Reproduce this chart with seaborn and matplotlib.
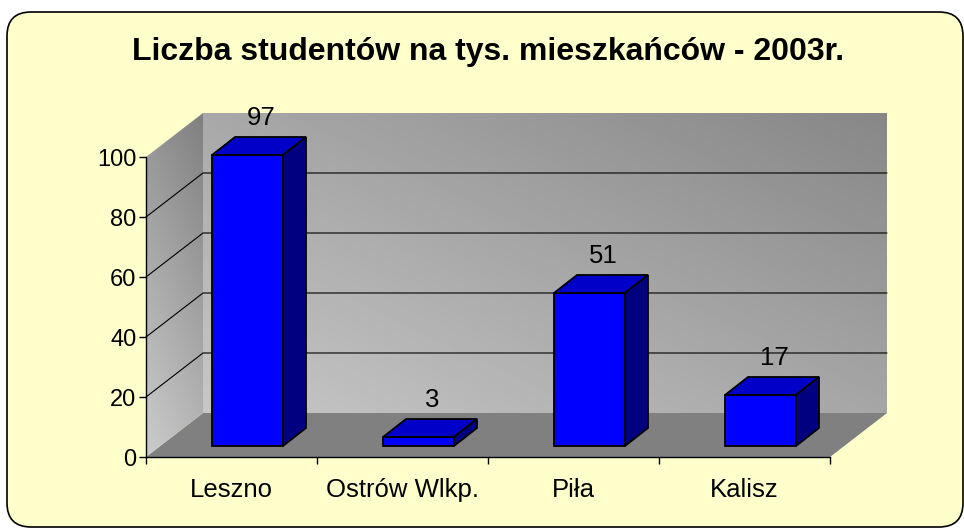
import numpy as np
import seaborn as sns
import matplotlib.pyplot as plt
from matplotlib.patches import FancyBboxPatch, Polygon
from matplotlib.transforms import offset_copy, IdentityTransform

# data
cities = ['Leszno', 'Ostrów Wlkp.', 'Piła', 'Kalisz']
students = [97, 3, 51, 17]
y_ticks = [0, 20, 40, 60, 80, 100]
grid_vals = [20, 40, 60, 80]
title = 'Liczba studentów na tys. mieszkańców - 2003r.'

W, H = 964, 528
DX, DY = 57, 44      # depth of the walls (px)
BX, BY = 16, 11      # front face of the bars sits a bit inside
BDX, BDY = 23, 18    # depth of the bars

sns.set_theme(style='white')
plt.rcParams['font.family'] = ['Liberation Sans', 'DejaVu Sans']

fig = plt.figure(figsize=(W / 100, H / 100), dpi=100, facecolor='white')

# background axes in pixel units
bg = fig.add_axes([0, 0, 1, 1], zorder=0)
bg.set_xlim(0, W)
bg.set_ylim(0, H)
bg.axis('off')

frame = FancyBboxPatch((7, 1), 956, 515, boxstyle='round,pad=0,rounding_size=24',
                       facecolor='#FFFFCC', edgecolor='black', linewidth=1.2)
bg.add_patch(frame)

# main axes = front plane of the 3d box
ax = fig.add_axes([146 / W, (H - 457) / H, (830 - 146) / W, 300 / H], zorder=1)
ax.set_xlim(-0.5, 3.5)
ax.set_ylim(0, 100)
ax.patch.set_visible(False)


def px(x, y, d=0):
    p = ax.transData.transform((x, y))
    return (p[0] + d * DX, p[1] + d * DY)


def gradient_poly(pts, fn):
    poly = Polygon(pts, closed=True, facecolor='none', edgecolor='none')
    bg.add_patch(poly)
    xs = [p[0] for p in pts]
    ys = [p[1] for p in pts]
    u, v = np.meshgrid(np.linspace(0, 1, 200), np.linspace(0, 1, 200))
    im = bg.imshow(fn(u, v), extent=(min(xs), max(xs), min(ys), max(ys)), origin='lower',
                   cmap='gray', vmin=0, vmax=1, aspect='auto', interpolation='bilinear', zorder=1)
    im.set_clip_path(poly)


# floor
floor = [px(-0.5, 0), px(3.5, 0), px(3.5, 0, 1), px(-0.5, 0, 1)]
bg.add_patch(Polygon(floor, closed=True, facecolor='#808080', edgecolor='none', zorder=1))

# back wall
back = [px(-0.5, 0, 1), px(3.5, 0, 1), px(3.5, 100, 1), px(-0.5, 100, 1)]
gradient_poly(back, lambda u, v: 0.78 - 0.13 * u - 0.12 * v)

# left wall
left = [px(-0.5, 0), px(-0.5, 0, 1), px(-0.5, 100, 1), px(-0.5, 100)]
gradient_poly(left, lambda u, v: 0.80 - 0.22 * v - 0.08 * u)

bg.set_xlim(0, W)
bg.set_ylim(0, H)

# grid lines on walls
for g in grid_vals:
    a, b, c = px(-0.5, g), px(-0.5, g, 1), px(3.5, g, 1)
    bg.plot([a[0], b[0], c[0]], [a[1], b[1], c[1]], color='black', linewidth=0.8, zorder=2)

# bars (front faces)
sns.barplot(x=cities, y=students, ax=ax, width=0.415, color='#0000FF', saturation=1,
            edgecolor='black', linewidth=1.3)
ax.set_xlim(-0.5, 3.5)
ax.set_ylim(0, 100)

shift = offset_copy(ax.transData, fig=fig, x=BX, y=BY, units='dots')
for bar in ax.patches:
    bar.set_transform(shift)
    bar.set_zorder(3)
    bar.set_clip_on(False)
    x0, w, h = bar.get_x(), bar.get_width(), bar.get_height()
    xl, yb = shift.transform((x0, 0))
    xr, yt = shift.transform((x0 + w, h))
    top = [(xl, yt), (xr, yt), (xr + BDX, yt + BDY), (xl + BDX, yt + BDY)]
    side = [(xr, yb), (xr + BDX, yb + BDY), (xr + BDX, yt + BDY), (xr, yt)]
    for pts, col in [(top, '#0000C8'), (side, '#000080')]:
        ax.add_patch(Polygon(pts, closed=True, facecolor=col, edgecolor='black',
                             linewidth=1.3, transform=IdentityTransform(),
                             clip_on=False, zorder=3))

# value labels
lab = offset_copy(ax.transData, fig=fig, x=30, y=48, units='dots')
for i, v in enumerate(students):
    ax.text(i, v, str(v), transform=lab, ha='center', va='center', fontsize=18.5,
            color='black', zorder=4)

# axes styling
ax.set_yticks(y_ticks)
ax.set_xticks(range(len(cities)), cities)
ax.set_xticks([-0.5, 0.5, 1.5, 2.5, 3.5], minor=True)
ax.tick_params(axis='y', left=True, length=5, width=1, color='black', labelsize=17,
               pad=2, labelcolor='black')
ax.tick_params(axis='x', which='major', bottom=True, length=0, labelsize=18.5, pad=15,
               labelcolor='black')
ax.tick_params(axis='x', which='minor', bottom=True, length=5, width=1, color='black')
ax.set_xlabel('')
ax.set_ylabel('')
for s in ['top', 'right']:
    ax.spines[s].set_visible(False)
for s in ['left', 'bottom']:
    ax.spines[s].set_color('black')
    ax.spines[s].set_linewidth(1)

fig.text(488 / W, (H - 52) / H, title, ha='center', va='center', fontsize=23,
         fontweight='bold', color='black')

fig.savefig('out.png', dpi=100, facecolor='white')
